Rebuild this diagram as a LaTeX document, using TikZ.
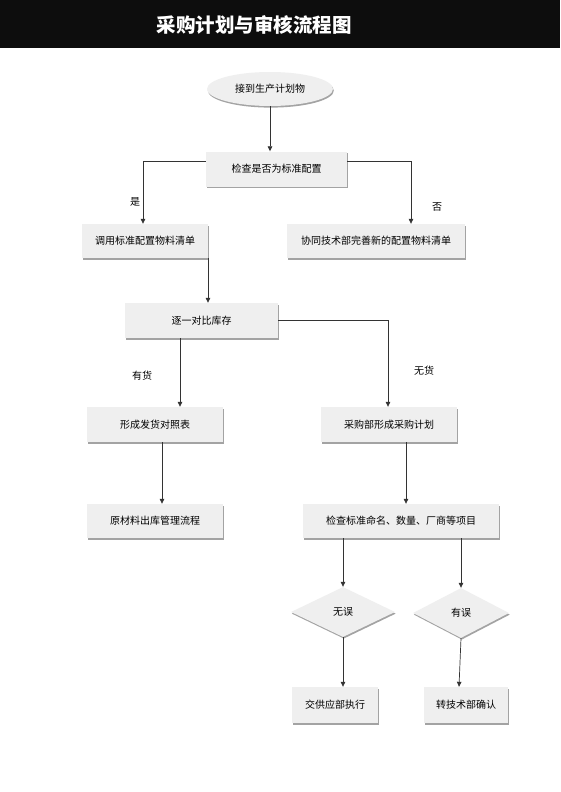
\documentclass[tikz,border=0pt]{standalone}
\usepackage{fontspec}
\setmainfont{Noto Sans CJK SC}
\usetikzlibrary{shapes.geometric,shadows,arrows.meta,calc}
\definecolor{boxfill}{HTML}{EFEFEF}
\definecolor{linec}{HTML}{333333}
\definecolor{titlebg}{HTML}{0D0D0D}
\tikzset{
  base/.style={fill=boxfill, font=\fontsize{10}{12}\selectfont, text=black,
    drop shadow={shadow xshift=0.8pt, shadow yshift=-1.6pt, fill=black!45, opacity=0.8}},
  procbox/.style={base, rectangle, minimum height=35pt, inner sep=0pt},
  startnode/.style={base, ellipse, minimum width=126pt, minimum height=34pt, inner sep=0pt},
  decision/.style={base, diamond, aspect=2, minimum width=100pt, minimum height=50pt, inner sep=0pt},
  arr/.style={draw=linec, line width=0.7pt, -{Triangle[width=4.5pt,length=5pt]}},
  lbl/.style={font=\fontsize{10}{12}\selectfont, text=black},
}
\begin{document}
\begin{tikzpicture}[x=1pt,y=-1pt]
\useasboundingbox (0,0) rectangle (560,792);
\fill[white] (0,0) rectangle (560,792);
\fill[titlebg] (0,0) rectangle (560,48);
\node[text=white, font=\fontsize{19.5}{24}\selectfont\bfseries] (title) at (254,25) {采购计划与审核流程图};

\node[startnode] (start) at (270,89) {接到生产计划物};
\node[procbox, minimum width=141pt] (check) at (276.5,169) {检查是否为标准配置};
\node[procbox, minimum width=126pt, minimum height=34pt] (std) at (145,241) {调用标准配置物料清单};
\node[procbox, minimum width=178pt, minimum height=34pt] (newbom) at (376,241) {协同技术部完善新的配置物料清单};
\node[procbox, minimum width=153pt] (cmp) at (201.5,320.5) {逐一对比库存};
\node[procbox, minimum width=136pt] (ship) at (155,424.5) {形成发货对照表};
\node[procbox, minimum width=136pt] (plan) at (389,424.5) {采购部形成采购计划};
\node[procbox, minimum width=136pt, minimum height=34pt] (outflow) at (155,521) {原材料出库管理流程};
\node[procbox, minimum width=196pt, minimum height=34pt] (verify) at (401,521) {检查标准命名、数量、厂商等项目};
\node[decision, minimum width=104pt] (ok) at (343,612) {无误};
\node[decision, minimum width=96pt] (err) at (461,613) {有误};
\node[procbox, minimum width=86pt, minimum height=36pt] (exec) at (335,705) {交供应部执行};
\node[procbox, minimum width=84pt, minimum height=36pt] (tech) at (466,705) {转技术部确认};

\draw[arr] (start.south) -- (start.south |- check.north);
\draw[arr] ([yshift=8pt]check.west) -| ([xshift=-2pt]std.north);
\draw[arr] ([yshift=8pt]check.east) -| ([xshift=35pt]newbom.north);
\draw[arr] ([xshift=63pt]std.south) -- ([xshift=63pt]std.south |- cmp.north);
\draw[arr] (cmp.east) -| ([xshift=-1pt]plan.north);
\draw[arr] ([xshift=-21.5pt]cmp.south) -- ([xshift=-21.5pt]cmp.south |- ship.north);
\draw[arr] ([xshift=7pt]ship.south) -- ([xshift=7pt]ship.south |- outflow.north);
\draw[arr] ([xshift=17pt]plan.south) -- ([xshift=17pt]plan.south |- verify.north);
\draw[arr] (verify.south -| ok.north) -- (ok.north);
\draw[arr] (verify.south -| err.north) -- (err.north);
\draw[arr] (ok.south) -- (ok.south |- exec.north);
\draw[arr] (err.south) -- ([xshift=-7pt]tech.north);

\node[lbl] (yes) at (135,202) {是};
\node[lbl] (no) at (437,207) {否};
\node[lbl] (have) at (142,376) {有货};
\node[lbl] (none) at (424,371) {无货};
\end{tikzpicture}
\end{document}
